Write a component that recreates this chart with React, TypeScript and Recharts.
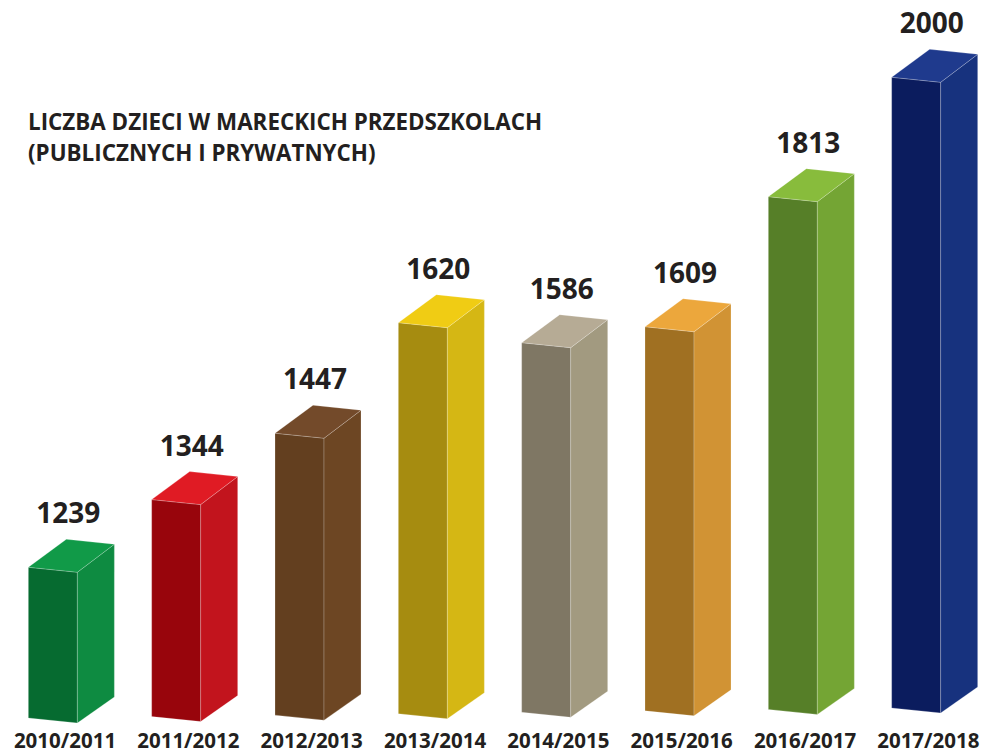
import { BarChart, Bar, XAxis, YAxis, LabelList } from 'recharts';

const categories = ['2010/2011', '2011/2012', '2012/2013', '2013/2014', '2014/2015', '2015/2016', '2016/2017', '2017/2018'];
const values = [1239, 1344, 1447, 1620, 1586, 1609, 1813, 2000];

// front / side / top shades for each bar
const frontColors = ['#066b30', '#98050c', '#633f1f', '#a68c10', '#7f7764', '#a07022', '#567f28', '#0b1c5e'];
const sideColors = ['#0e8b41', '#c2141d', '#6d4623', '#d5b714', '#a29a80', '#d19334', '#74a534', '#17327e'];
const topColors = ['#119a48', '#e01b24', '#734a2a', '#f0cc14', '#b6ab95', '#eca73c', '#88bc3c', '#1f3a8d'];

const data = categories.map((name, i) => ({ name, value: values[i] }));

const FONT = '"Open Sans", sans-serif';
const TEXT = '#231f20';
const FRONT_W = 49;
const DX = 37;
const DY = 28;
const SLANT = 5;

// slight perspective: the floor rises towards the right
const tilt = (i: number) => -1.43 * i;

const pts = (p: number[][]) => p.map((q) => q.join(',')).join(' ');

function Box3D(props: any) {
  const { x, y, height, index } = props;
  if (height == null) return null;
  const x0 = x;
  const x1 = x + FRONT_W;
  const yT = y + tilt(index);
  const yB = y + height + tilt(index);
  const edge = 'rgba(255,255,255,0.35)';
  return (
    <g>
      <polygon
        points={pts([[x0, yT], [x1, yT + SLANT], [x1, yB + SLANT], [x0, yB]])}
        fill={frontColors[index]}
        stroke={edge}
        strokeWidth={0.6}
      />
      <polygon
        points={pts([[x1, yT + SLANT], [x1 + DX, yT + SLANT - DY], [x1 + DX, yB + SLANT - 26], [x1, yB + SLANT]])}
        fill={sideColors[index]}
        stroke={edge}
        strokeWidth={0.6}
      />
      <polygon
        points={pts([[x0, yT], [x1, yT + SLANT], [x1 + DX, yT + SLANT - DY], [x0 + DX + 1, yT - DY]])}
        fill={topColors[index]}
        stroke={edge}
        strokeWidth={0.6}
      />
    </g>
  );
}

function ValueLabel(props: any) {
  const { x, y, width, value, index } = props;
  return (
    <text
      x={x + width / 2 - 3}
      y={y + tilt(index) - 44}
      textAnchor="middle"
      fontFamily={FONT}
      fontWeight={700}
      fontSize={28}
      fill={TEXT}
    >
      {value}
    </text>
  );
}

function CategoryTick(props: any) {
  const { x, payload } = props;
  return (
    <text x={x - 6} y={748} textAnchor="middle" fontFamily={FONT} fontWeight={700} fontSize={20.5} fill={TEXT}>
      {payload.value}
    </text>
  );
}

export default function App() {
  return (
    <div style={{ position: 'absolute', left: 0, top: 0, width: 984, height: 754, overflow: 'hidden', background: '#fff' }}>
      <div
        style={{
          position: 'absolute',
          left: 28,
          top: 106,
          fontFamily: FONT,
          fontWeight: 700,
          fontSize: 22.4,
          lineHeight: '31px',
          color: TEXT,
          whiteSpace: 'nowrap',
        }}
      >
        LICZBA DZIECI W MARECKICH PRZEDSZKOLACH
        <br />
        (PUBLICZNYCH I PRYWATNYCH)
      </div>
      <BarChart width={996} height={754} data={data} margin={{ top: 87.3, right: 0, bottom: 0, left: 9.35 }}>
        <XAxis dataKey="name" height={36} axisLine={false} tickLine={false} tick={<CategoryTick />} interval={0} />
        <YAxis hide domain={[1000, 2000]} />
        <Bar dataKey="value" barSize={86} shape={<Box3D />} isAnimationActive={false}>
          <LabelList dataKey="value" content={<ValueLabel />} />
        </Bar>
      </BarChart>
    </div>
  );
}
